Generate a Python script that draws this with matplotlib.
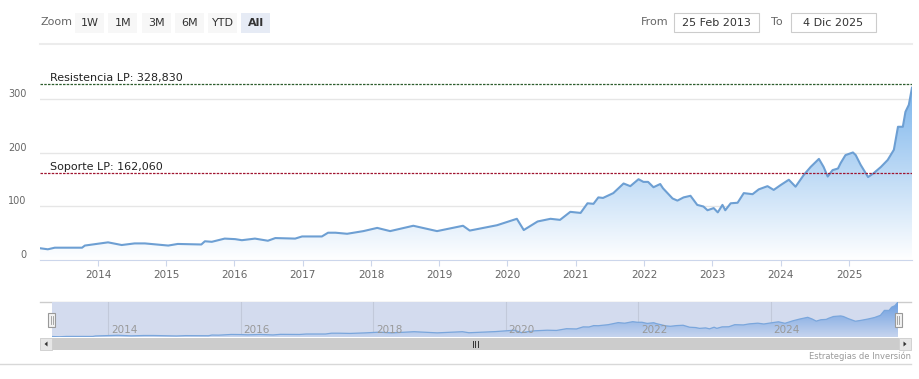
import numpy as np
import pandas as pd
import matplotlib
matplotlib.use("Agg")
import matplotlib.pyplot as plt
import matplotlib.dates as mdates
import matplotlib.transforms as mtrans
from matplotlib.colors import LinearSegmentedColormap
from matplotlib.patches import Rectangle, Polygon

# ===============================
# Datos
# ===============================
fechas = [
    "2013-02-25", "2013-04-08", "2013-05-15", "2013-10-08", "2013-10-23",
    "2014-02-24", "2014-05-08", "2014-07-16", "2014-09-09", "2015-01-12",
    "2015-03-04", "2015-07-08", "2015-07-27", "2015-09-02", "2015-11-10",
    "2016-01-05", "2016-02-10", "2016-04-20", "2016-06-28", "2016-08-07",
    "2016-11-21", "2016-12-28", "2017-04-13", "2017-05-16", "2017-06-25",
    "2017-08-26", "2017-11-21", "2018-02-03", "2018-04-13", "2018-08-15",
    "2018-12-20", "2019-05-08", "2019-06-13", "2019-11-06", "2020-02-20",
    "2020-03-28", "2020-06-10", "2020-08-18", "2020-10-08", "2020-12-02",
    "2021-01-26", "2021-03-04", "2021-04-05", "2021-05-01", "2021-05-26",
    "2021-07-20", "2021-09-13", "2021-10-19", "2021-12-02", "2021-12-28",
    "2022-01-22", "2022-02-20", "2022-03-28", "2022-04-12", "2022-06-02",
    "2022-06-28", "2022-07-31", "2022-09-06", "2022-10-12", "2022-11-14",
    "2022-12-06", "2023-01-08", "2023-01-30", "2023-02-24", "2023-03-11",
    "2023-04-09", "2023-05-16", "2023-06-18", "2023-08-04", "2023-09-06",
    "2023-10-23", "2023-11-25", "2024-01-01", "2024-02-14", "2024-03-21",
    "2024-05-04", "2024-06-10", "2024-07-24", "2024-08-18", "2024-09-09",
    "2024-10-05", "2024-11-03", "2024-11-17", "2024-12-13", "2025-01-22",
    "2025-02-06", "2025-03-04", "2025-04-13", "2025-05-12", "2025-06-21",
    "2025-07-27", "2025-08-29", "2025-09-20", "2025-10-16", "2025-10-30",
    "2025-11-17", "2025-12-04",
]
precio = [
    22, 20, 23, 23, 27,
    33, 28, 31, 31, 27,
    30, 29, 35, 34, 40,
    39, 37, 40, 36, 41,
    40, 44, 44, 51, 51,
    49, 54, 60, 54, 64,
    54, 64, 55, 65, 77,
    56, 72, 77, 75, 90,
    88, 106, 105, 117, 116,
    125, 143, 138, 151, 146,
    146, 136, 142, 134, 115,
    111, 117, 120, 103, 100,
    93, 97, 89, 103, 93,
    106, 107, 125, 123, 132,
    138, 131, 140, 150, 137,
    159, 174, 189, 174, 156,
    168, 171, 181, 196, 201,
    196, 178, 155, 162, 174,
    187, 206, 249, 249, 277,
    290, 322,
]
resistencia = 328.830
soporte = 162.060

anios_eje = list(range(2014, 2026))
anios_nav = list(range(2014, 2025, 2))
y_ticks = [0, 100, 200, 300]
botones = ["1W", "1M", "3M", "6M", "YTD", "All"]
desde = "25 Feb 2013"
hasta = "4 Dic 2025"

# ===============================
# Figura y helpers en pixeles
# ===============================
W, H = 920, 379
fig = plt.figure(figsize=(W / 100, H / 100), dpi=100)
fig.patch.set_facecolor("white")


def caja(x0, y0, x1, y1):
    # rectangulo en pixeles (origen arriba-izq) -> coords de figura
    return [x0 / W, 1 - y1 / H, (x1 - x0) / W, (y1 - y0) / H]


def capa(z):
    # eje transparente en pixeles para dibujar los controles
    a = fig.add_axes([0, 0, 1, 1], zorder=z)
    a.set_xlim(0, W)
    a.set_ylim(H, 0)
    a.axis("off")
    return a


x = mdates.date2num(pd.to_datetime(fechas))
x_min = x[0]
x_max = x[-1]
tick_x = mdates.date2num(pd.to_datetime([f"{a}-01-01" for a in anios_eje]))
nav_x = mdates.date2num(pd.to_datetime([f"{a}-01-01" for a in anios_nav]))

ui = capa(0)

# ===============================
# 1) Grafico principal
# ===============================
ax = fig.add_axes(caja(40, 60, 912, 260), zorder=2)
ax.patch.set_alpha(0)

relleno = ax.fill_between(x, precio, 0, color="none", lw=0)
cmap = LinearSegmentedColormap.from_list("azul", ["#ffffff", "#7cb5ec"])
grad = np.linspace(0, 1, 256).reshape(-1, 1)
im = ax.imshow(grad, extent=[x_min, x_max, 0, max(precio)], origin="lower",
               aspect="auto", cmap=cmap, zorder=1)
im.set_clip_path(relleno.get_paths()[0], transform=ax.transData)
ax.plot(x, precio, color="#6d9fd3", lw=1.5, zorder=3, solid_joinstyle="round")

ax.axhline(resistencia, color="#2d5e2d", ls=(0, (2, 1)), lw=0.9, zorder=4)
ax.axhline(soporte, color="#a01530", ls=(0, (2, 1)), lw=0.9, zorder=4)
for nivel, nombre in [(resistencia, "Resistencia LP"), (soporte, "Soporte LP")]:
    ax.annotate(f"{nombre}: {nivel:.3f}".replace(".", ","),
                xy=(10 / 872, nivel), xycoords=("axes fraction", "data"),
                xytext=(0, 1), textcoords="offset points",
                va="bottom", ha="left", fontsize=8, color="#222222", zorder=5)

ax.set_xlim(x_min, x_max)
ax.set_ylim(0, 373.8)
for s in ["top", "right", "left"]:
    ax.spines[s].set_visible(False)
ax.spines["bottom"].set_color("#ccd6eb")
ax.set_yticks(y_ticks)
ax.set_yticklabels([str(v) for v in y_ticks])
ax.yaxis.grid(True, color="#e6e6e6", lw=1)
ax.set_axisbelow(True)
ax.tick_params(axis="y", length=0, pad=9.5, labelsize=7, labelcolor="#666666")
off = mtrans.ScaledTranslation(0, 0.06, fig.dpi_scale_trans)
for lab in ax.get_yticklabels():
    lab.set_transform(lab.get_transform() + off)
ax.set_xticks(tick_x)
ax.set_xticklabels([str(a) for a in anios_eje])
ax.tick_params(axis="x", length=4, color="#ccd6eb", pad=3, labelsize=7.5,
               labelcolor="#666666")

# ===============================
# 2) Navegador
# ===============================
nav = fig.add_axes(caja(52, 302, 898, 337), zorder=2)
nav.set_facecolor("#d3dbee")
rel_nav = nav.fill_between(x, precio, 0, color="none", lw=0)
cmap_nav = LinearSegmentedColormap.from_list("nav", ["#c6d4ee", "#6c9ee0"])
im2 = nav.imshow(grad, extent=[x_min, x_max, min(precio) - 2, max(precio)],
                 origin="lower", aspect="auto", cmap=cmap_nav, zorder=1)
im2.set_clip_path(rel_nav.get_paths()[0], transform=nav.transData)
nav.plot(x, precio, color="#7aa6dc", lw=0.9, zorder=3)
nav.set_xlim(x_min, x_max)
nav.set_ylim(min(precio) - 2, max(precio))
for xv, a in zip(nav_x, anios_nav):
    nav.axvline(xv, color="#c2c9da", lw=0.8, zorder=0.5)
    nav.annotate(str(a), xy=(xv, 0), xycoords=("data", "axes fraction"),
                 xytext=(2, 1.5), textcoords="offset points",
                 fontsize=7.5, color="#999999", va="bottom", ha="left", zorder=4)
nav.set_xticks([])
nav.set_yticks([])
for s in nav.spines.values():
    s.set_visible(False)

# ===============================
# 3) Controles (zoom, fechas, scrollbar)
# ===============================
ui.plot([40, 912], [44, 44], color="#ececec", lw=1.5)
ui.text(41, 22, "Zoom", fontsize=8, color="#666666", va="center", ha="left")
for i, b in enumerate(botones):
    bx = 75 + i * 33.3
    activo = b == "All"
    ui.add_patch(Rectangle((bx, 13), 29, 20, fc="#e6ebf5" if activo else "#f7f7f7",
                           ec="none"))
    ui.text(bx + 14.5, 23, b, fontsize=8, color="#333333", ha="center", va="center",
            fontweight="bold" if activo else "normal")

ui.text(641, 22, "From", fontsize=8, color="#666666", va="center", ha="left")
ui.add_patch(Rectangle((674, 13), 85, 19, fc="white", ec="#cccccc", lw=0.8))
ui.text(716.5, 22.5, desde, fontsize=8, color="#333333", va="center", ha="center")
ui.text(771, 22, "To", fontsize=8, color="#666666", va="center", ha="left")
ui.add_patch(Rectangle((791, 13), 85, 19, fc="white", ec="#cccccc", lw=0.8))
ui.text(833.5, 22.5, hasta, fontsize=8, color="#333333", va="center", ha="center")

# borde superior del navegador
ui.plot([40, 911], [302, 302], color="#cccccc", lw=1)

# scrollbar
ui.add_patch(Rectangle((40, 338), 871, 12, fc="#f2f2f2", ec="none"))
ui.add_patch(Rectangle((52, 338), 847, 12, fc="#cccccc", ec="none"))
ui.add_patch(Rectangle((40, 338), 12, 12, fc="#e6e6e6", ec="#cccccc", lw=0.6))
ui.add_patch(Rectangle((899, 338), 12, 12, fc="#e6e6e6", ec="#cccccc", lw=0.6))
ui.add_patch(Polygon([[44.5, 344], [47.5, 341.5], [47.5, 346.5]], fc="#333333", ec="none"))
ui.add_patch(Polygon([[906.5, 344], [903.5, 341.5], [903.5, 346.5]], fc="#333333", ec="none"))
for gx in [473, 475.5, 478]:
    ui.plot([gx, gx], [341, 347], color="#333333", lw=0.7)

ui.plot([0, 911], [364, 364], color="#d8d8d8", lw=1)
ui.text(911, 356.5, "Estrategias de Inversión", fontsize=6, color="#999999",
        ha="right", va="center")

# manijas del navegador (encima del navegador)
top = capa(6)
for hx in [48.5, 895]:
    top.add_patch(Rectangle((hx, 313), 7, 14, fc="#f2f2f2", ec="#999999", lw=0.8))
    for lx in [hx + 2.5, hx + 4.5]:
        top.plot([lx, lx], [316, 324], color="#999999", lw=0.6)

fig.savefig("out.png", dpi=100, facecolor="white")
